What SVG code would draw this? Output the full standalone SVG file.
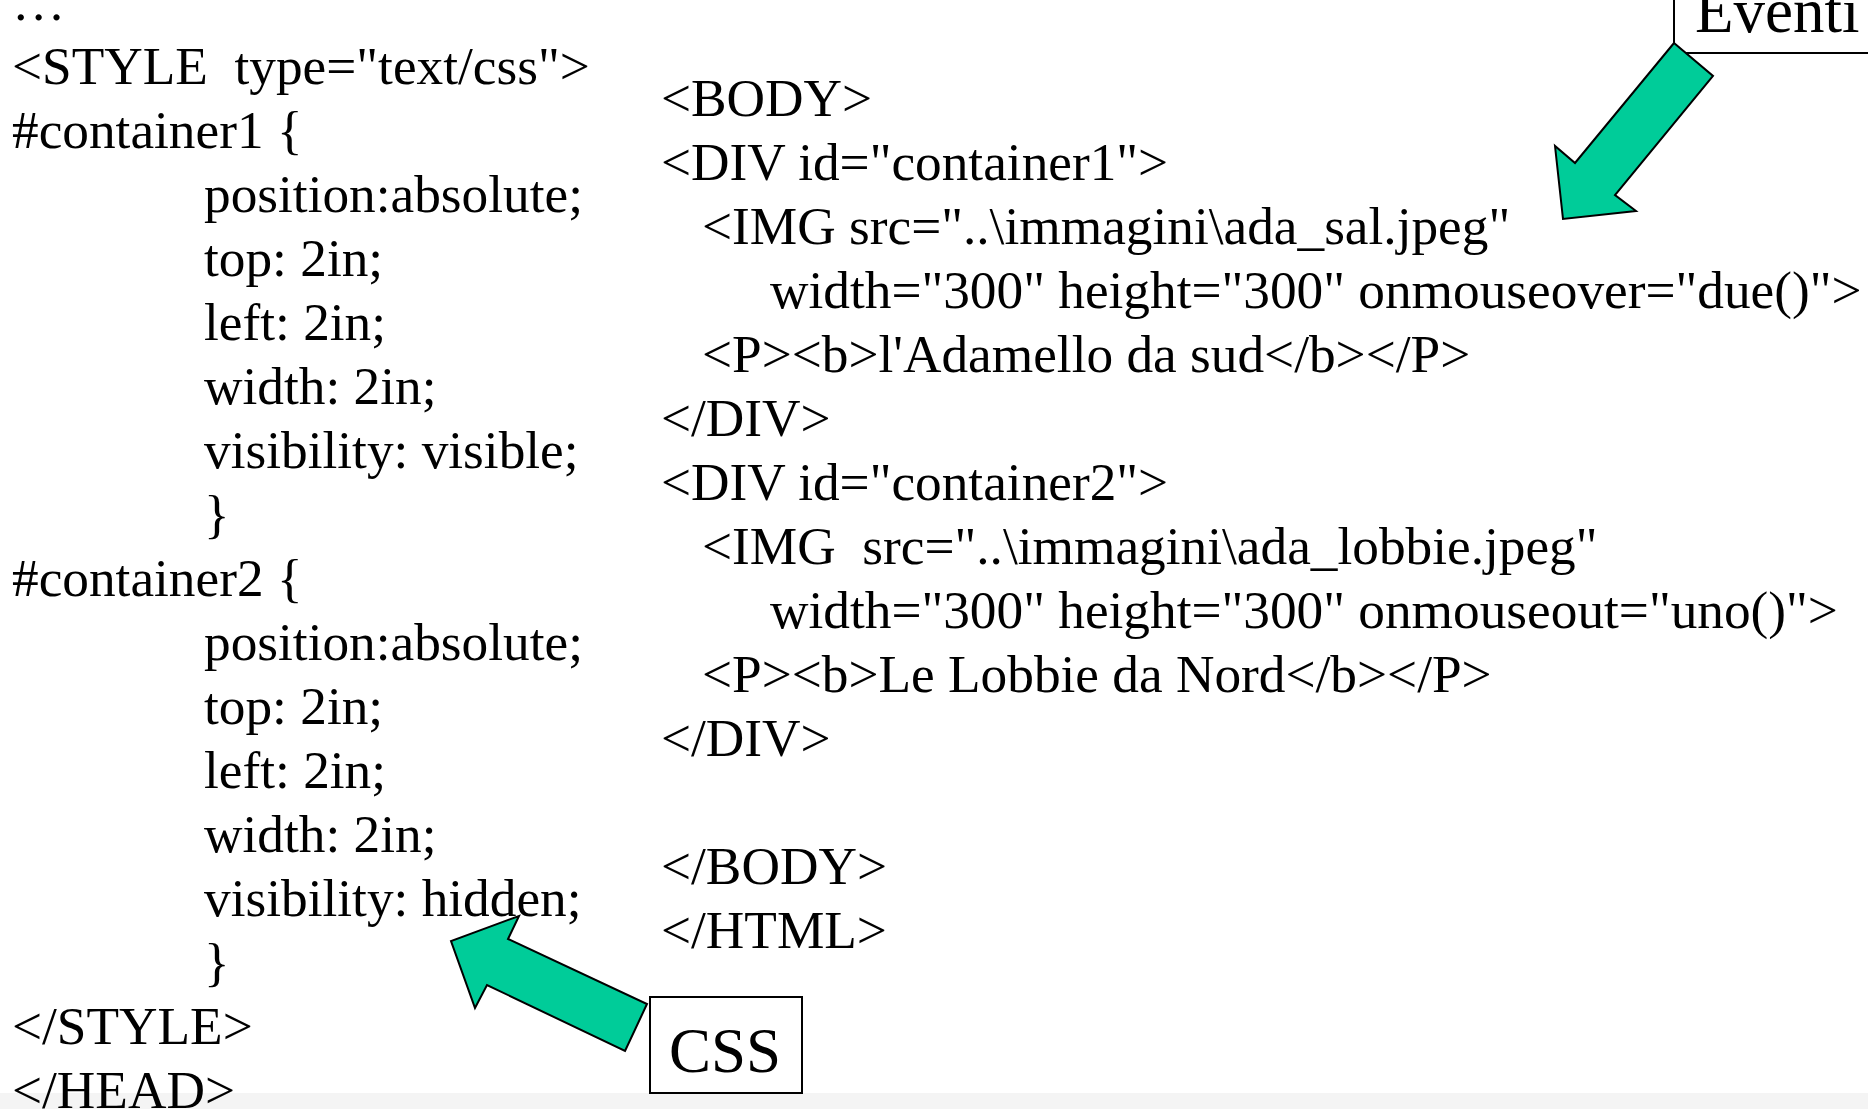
<svg xmlns="http://www.w3.org/2000/svg" width="1868" height="1109" viewBox="0 0 1868 1109">
  <style>
    .code { font-family: "Liberation Serif", "Times New Roman", serif; font-size: 53.3px; fill: #000; white-space: pre; }
    .label { font-family: "Liberation Serif", "Times New Roman", serif; font-size: 63px; fill: #000; }
    .box { fill: #fff; stroke: #000; stroke-width: 2; }
    .arrow { fill: #00CC99; stroke: #000; stroke-width: 2; stroke-linejoin: miter; }
  </style>
  <rect x="0" y="0" width="1868" height="1109" fill="#fff"/>
  <rect x="0" y="1093" width="1868" height="16" fill="#f4f4f4"/>

  <g id="css-code">
    <text class="code" x="12" y="20">…</text>
    <text class="code" x="12" y="84" xml:space="preserve">&lt;STYLE  type="text/css"&gt;</text>
    <text class="code" x="12" y="148">#container1 {</text>
    <text class="code" x="204" y="212">position:absolute;</text>
    <text class="code" x="204" y="276">top: 2in;</text>
    <text class="code" x="204" y="340">left: 2in;</text>
    <text class="code" x="204" y="404">width: 2in;</text>
    <text class="code" x="204" y="468">visibility: visible;</text>
    <text class="code" x="204" y="532">}</text>
    <text class="code" x="12" y="596">#container2 {</text>
    <text class="code" x="204" y="660">position:absolute;</text>
    <text class="code" x="204" y="724">top: 2in;</text>
    <text class="code" x="204" y="788">left: 2in;</text>
    <text class="code" x="204" y="852">width: 2in;</text>
    <text class="code" x="204" y="916">visibility: hidden;</text>
    <text class="code" x="204" y="980">}</text>
    <text class="code" x="12" y="1044">&lt;/STYLE&gt;</text>
    <text class="code" x="12" y="1108">&lt;/HEAD&gt;</text>
  </g>

  <g id="html-code">
    <text class="code" x="661" y="116">&lt;BODY&gt;</text>
    <text class="code" x="661" y="180">&lt;DIV id="container1"&gt;</text>
    <text class="code" x="702" y="244">&lt;IMG src="..\immagini\ada_sal.jpeg"</text>
    <text class="code" x="770" y="308">width="300" height="300" onmouseover="due()"&gt;</text>
    <text class="code" x="702" y="372">&lt;P&gt;&lt;b&gt;l'Adamello da sud&lt;/b&gt;&lt;/P&gt;</text>
    <text class="code" x="661" y="436">&lt;/DIV&gt;</text>
    <text class="code" x="661" y="500">&lt;DIV id="container2"&gt;</text>
    <text class="code" x="702" y="564" xml:space="preserve">&lt;IMG  src="..\immagini\ada_lobbie.jpeg"</text>
    <text class="code" x="770" y="628">width="300" height="300" onmouseout="uno()"&gt;</text>
    <text class="code" x="702" y="692">&lt;P&gt;&lt;b&gt;Le Lobbie da Nord&lt;/b&gt;&lt;/P&gt;</text>
    <text class="code" x="661" y="756">&lt;/DIV&gt;</text>
    <text class="code" x="661" y="884">&lt;/BODY&gt;</text>
    <text class="code" x="661" y="948">&lt;/HTML&gt;</text>
  </g>

  <g id="label-eventi">
    <rect class="box" x="1674" y="-10" width="210" height="63"/>
    <text class="label" x="1695" y="32">Eventi</text>
  </g>

  <g id="label-css">
    <rect class="box" x="650" y="997" width="152" height="96"/>
    <text class="label" x="669" y="1072">CSS</text>
  </g>

  <g id="connectors">
    <polygon class="arrow" points="1674,43 1713,76 1615,195 1636,211 1563,219 1555,146 1575,163"/>
    <polygon class="arrow" points="625,1051 647,1004 508,939 519,916 451,941 475,1008 487,985"/>
  </g>
</svg>
